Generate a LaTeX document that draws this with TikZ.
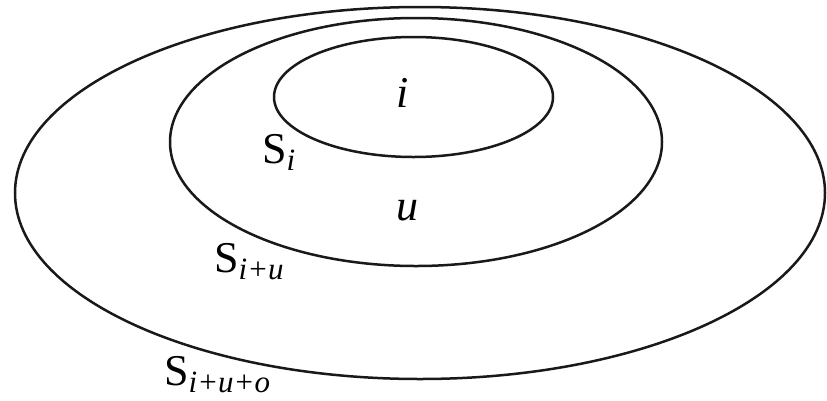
\documentclass[tikz,border=0pt]{standalone}
\usepackage{fontspec}
\setmainfont{Liberation Serif}
\newcommand{\subsz}{\fontsize{31}{31}\selectfont\itshape}
\begin{document}
\begin{tikzpicture}[x=1pt,y=-1pt,
  ring/.style={draw=black!90,line width=2.5pt},
  lbl/.style={inner sep=0pt,font=\fontsize{44}{44}\selectfont}]
\useasboundingbox (0,0) rectangle (827,400);
\fill[white] (0,0) rectangle (827,400);
\draw[ring] (420,193) ellipse [x radius=405, y radius=186];
\draw[ring] (416,142) ellipse [x radius=246, y radius=124];
\draw[ring] (413.5,97) ellipse [x radius=139.5, y radius=60];
\node[lbl,anchor=base] (ti) at (403,107) {\itshape i};
\node[lbl,anchor=base] (tu) at (407,220) {\itshape u};
\node[lbl,anchor=base west] (si) at (262,163) {S\raisebox{-0.16em}{\subsz i}};
\node[lbl,anchor=base west] (siu) at (214,272) {S\raisebox{-0.16em}{\subsz i+u}};
\node[lbl,anchor=base west] (siuo) at (164,385) {S\raisebox{-0.16em}{\subsz i+u+o}};
\end{tikzpicture}
\end{document}
